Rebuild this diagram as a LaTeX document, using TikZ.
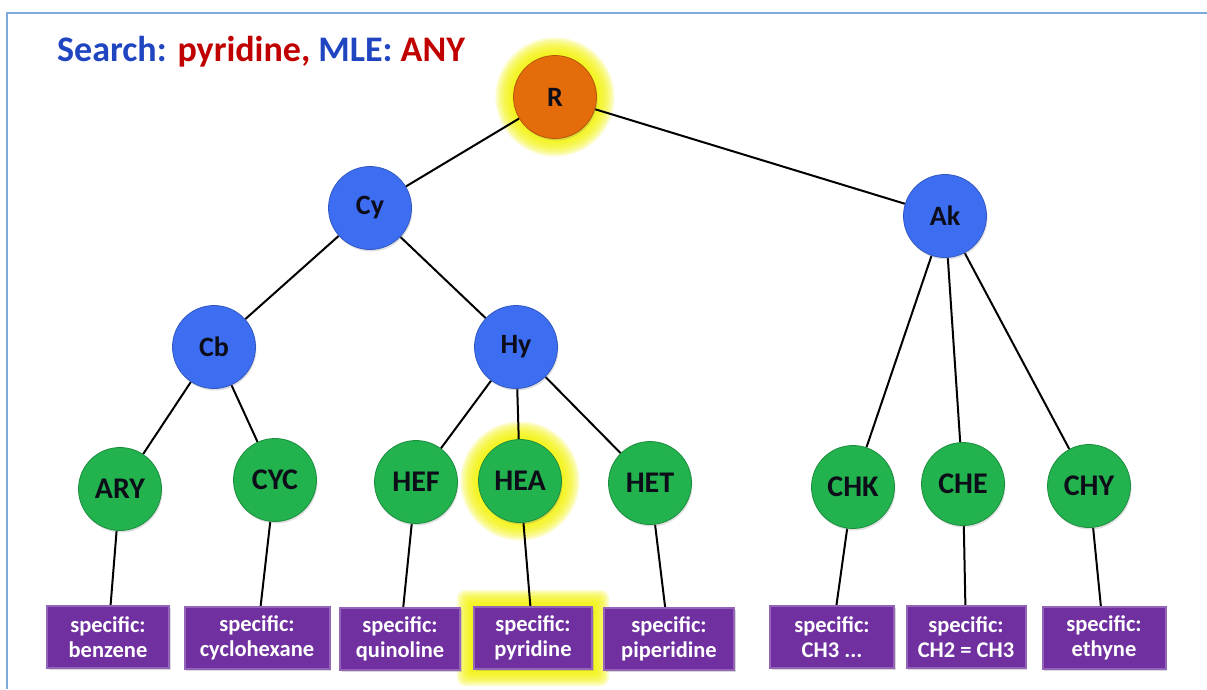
\documentclass[tikz,border=0pt]{standalone}
\usepackage{fontspec}
\setmainfont{Carlito}
\usepackage{tikz}
\usetikzlibrary{backgrounds,calc,shadows}
\definecolor{TreeInk}{HTML}{0D0D1A}
\definecolor{TreeOrange}{HTML}{E46C0A}
\definecolor{TreeBlue}{HTML}{3D6EF2}
\definecolor{TreeGreen}{HTML}{22B24E}
\definecolor{TreePurple}{HTML}{7030A0}
\definecolor{TreeGlow}{HTML}{F2F200}
\definecolor{TitleBlue}{HTML}{1F45C0}
\definecolor{TitleRed}{HTML}{C00000}
\definecolor{FrameBlue}{HTML}{7EA9DA}
\begin{document}
\begin{tikzpicture}[x=1pt,y=-1pt,
  ball/.style={circle,minimum size=83pt,inner sep=0pt,text=TreeInk,
    fill=#1,draw=#1!80!black,line width=.8pt,
    drop shadow={opacity=.25,shadow xshift=1pt,shadow yshift=-2pt}},
  rootnode/.style={ball=TreeOrange,font=\bfseries\fontsize{28}{32}\selectfont},
  catnode/.style={ball=TreeBlue,font=\bfseries\fontsize{28}{32}\selectfont},
  leafnode/.style={ball=TreeGreen,font=\bfseries\fontsize{30}{34}\selectfont},
  specbox/.style={minimum height=62pt,minimum width=#1,inner sep=0pt,
    fill=TreePurple,draw=TreePurple!75!white,line width=2pt,text=white,
    align=center,font=\bfseries\fontsize{22.5}{25}\selectfont,
    drop shadow={opacity=.3,shadow xshift=1.5pt,shadow yshift=-2pt}},
  link/.style={draw=black,line width=2pt}
]
\useasboundingbox (0,0) rectangle (1207,689);
\draw[FrameBlue,line width=2.2pt] (7,689) -- (7,13) -- (1207,13);
\node[anchor=base west,inner sep=0pt,font=\bfseries\fontsize{36}{42}\selectfont] (title) at (57,61)
  {\textcolor{TitleBlue}{Search:} \textcolor{TitleRed}{pyridine,} \textcolor{TitleBlue}{MLE:} \textcolor{TitleRed}{ANY}};
% upper levels
\node[rootnode] (R) at (555,97) {R};
\node[catnode] (Cy) at (370,208) {Cy};
\node[catnode] (Ak) at (945,216) {Ak};
\node[catnode] (Cb) at (214,347) {Cb};
\node[catnode] (Hy) at (516,347) {Hy};
% classes
\node[leafnode] (ARY) at (120,489) {ARY};
\node[leafnode] (CYC) at (275,480) {CYC};
\node[leafnode] (HEF) at (416,482) {HEF};
\node[leafnode] (HEA) at (520,481) {HEA};
\node[leafnode] (HET) at (650,483) {HET};
\node[leafnode] (CHK) at (853,487) {CHK};
\node[leafnode] (CHE) at (963,484) {CHE};
\node[leafnode] (CHY) at (1089,486) {CHY};
% specific compounds
\node[specbox=122pt] (benzene) at (108,637) {specific:\\benzene};
\node[specbox=145pt] (cyclohexane) at (257,638) {specific:\\cyclohexane};
\node[specbox=120pt] (quinoline) at (400,639) {specific:\\quinoline};
\node[specbox=118pt] (pyridine) at (533,638) {specific:\\pyridine};
\node[specbox=130pt] (piperidine) at (669,639) {specific:\\piperidine};
\node[specbox=124pt] (methyl) at (832,637) {specific:\\CH3 ...};
\node[specbox=119pt] (ethene) at (966,637) {specific:\\CH2 = CH3};
\node[specbox=123pt] (ethyne) at (1104,638) {specific:\\ethyne};
\begin{scope}[on background layer]
  \foreach \k in {1,...,9}{
    \fill[TreeGlow,opacity=.2] (R) circle[radius={41.5pt+2pt*\k}];
    \fill[TreeGlow,opacity=.2] (HEA) circle[radius={41.5pt+2pt*\k}];
    \fill[TreeGlow,opacity=.2,rounded corners={1pt*\k}]
      ($(pyridine.north west)+({-1.8pt*\k},{1.8pt*\k})$) rectangle
      ($(pyridine.south east)+({1.8pt*\k},{-1.8pt*\k})$);
  }
  \draw[link] (R) -- (Cy);
  \draw[link] (R) -- (Ak);
  \draw[link] (Cy) -- (Cb);
  \draw[link] (Cy) -- (Hy);
  \draw[link] (Cb) -- (ARY);
  \draw[link] (Cb) -- (CYC);
  \draw[link] (Hy) -- (HEF);
  \draw[link] (Hy) -- (HEA);
  \draw[link] (Hy) -- (HET);
  \draw[link] (Ak) -- (CHK);
  \draw[link] (Ak) -- (CHE);
  \draw[link] (Ak) -- (CHY);
  \draw[link] (ARY) -- (benzene);
  \draw[link] (CYC) -- (cyclohexane);
  \draw[link] (HEF) -- (quinoline);
  \draw[link] (HEA) -- (pyridine);
  \draw[link] (HET) -- (piperidine);
  \draw[link] (CHK) -- (methyl);
  \draw[link] (CHE) -- (ethene);
  \draw[link] (CHY) -- (ethyne);
\end{scope}
\end{tikzpicture}
\end{document}
